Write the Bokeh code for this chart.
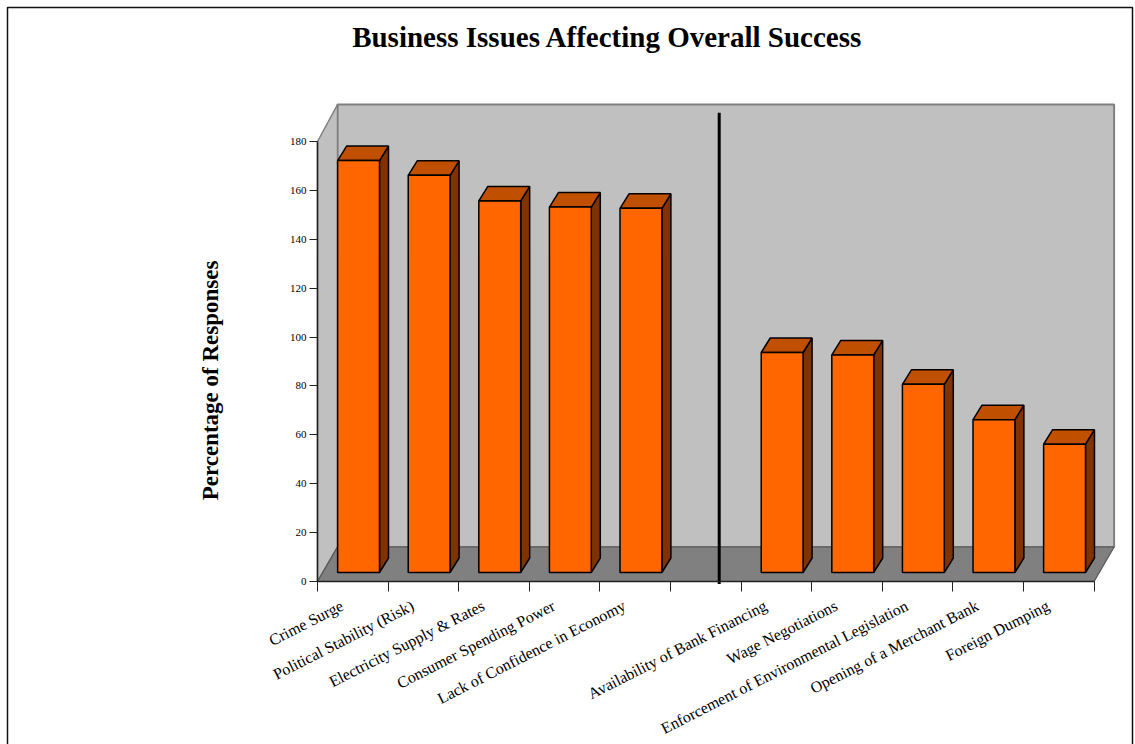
from bokeh.plotting import figure
from bokeh.models import LinearAxis, FixedTicker, Range1d, ColumnDataSource, Label, BoxAnnotation
from bokeh.embed import file_html
from bokeh.resources import INLINE
import math

# ---------------- data ----------------
title_text = "Business Issues Affecting Overall Success"
y_label_text = "Percentage of Responses"

group1_categories = ["Crime Surge", "Political Stability (Risk)", "Electricity Supply & Rates",
                     "Consumer Spending Power", "Lack of Confidence in Economy"]
group1_values = [168.5, 162.5, 152, 149.5, 149]

group2_categories = ["Availability of Bank Financing", "Wage Negotiations",
                     "Enforcement of Environmental Legislation", "Opening of a Merchant Bank",
                     "Foreign Dumping"]
group2_values = [90, 89, 77, 62.5, 52.5]

y_ticks = [0, 20, 40, 60, 80, 100, 120, 140, 160, 180]

# slot positions: 5 bars, a blank slot, 5 bars
slots = list(range(0, 5)) + list(range(6, 11))
categories = group1_categories + group2_categories
values = group1_values + group2_values
N_SLOTS = 11

# ---------------- style ----------------
W, H = 1135, 744
ORIGIN_X, ORIGIN_Y = 317, 581   # pixel position of the axes origin
PX_X = 70.6      # pixels per slot
PX_Y = 2.4444    # pixels per value unit
SERIF = "Liberation Serif"

DX = 20 / PX_X          # wall depth offset (x)
DY = 34.5 / PX_Y        # wall depth offset (y)
WALL_TOP = 181
BAR_L, BAR_R = 0.285, 0.878
BAR_BASE = 9 / PX_Y     # front face bottom (depth shift)
BDX = 9 / PX_X          # bar depth
BDY = 14.5 / PX_Y
DIVIDER_X = 5.69
LABEL_SHIFT = 0.35      # category label anchor inside a slot

# the frame fills the whole canvas; axes are pinned at the data origin
p = figure(width=W, height=H, output_backend="svg", toolbar_location=None,
           x_range=Range1d(-ORIGIN_X / PX_X, (W - ORIGIN_X) / PX_X),
           y_range=Range1d(-(H - ORIGIN_Y) / PX_Y, ORIGIN_Y / PX_Y),
           x_axis_type=None, y_axis_type=None,
           min_border_left=0, min_border_right=0, min_border_top=0, min_border_bottom=0)
p.outline_line_color = None
p.background_fill_color = "white"
p.border_fill_color = "white"

# walls and floor
p.quad(left=[DX], right=[N_SLOTS + DX], bottom=[DY], top=[WALL_TOP + DY],
       fill_color="#C0C0C0", line_color="#808080", line_width=2)
p.patch([0, DX, DX, 0], [0, DY, WALL_TOP + DY, 180],
        fill_color="#C0C0C0", line_color="#808080", line_width=1.5)
p.patch([0, N_SLOTS, N_SLOTS + DX, DX], [0, 0, DY, DY],
        fill_color="#808080", line_color="#555555", line_width=1.2)

# divider line
p.segment(x0=[DIVIDER_X], y0=[-1], x1=[DIVIDER_X], y1=[191.8], line_color="black", line_width=3)

# bars
lefts = [s + BAR_L for s in slots]
rights = [s + BAR_R for s in slots]
tops = [v + BAR_BASE for v in values]
front = ColumnDataSource(dict(left=lefts, right=rights, bottom=[BAR_BASE] * len(values), top=tops))
top_xs = [[l, r, r + BDX, l + BDX] for l, r in zip(lefts, rights)]
top_ys = [[t, t, t + BDY, t + BDY] for t in tops]
side_xs = [[r, r + BDX, r + BDX, r] for r in rights]
side_ys = [[BAR_BASE, BAR_BASE + BDY, t + BDY, t] for t in tops]

p.patches(side_xs, side_ys, fill_color="#803300", line_color="black", line_width=1.5)
p.patches(top_xs, top_ys, fill_color="#C04F00", line_color="black", line_width=1.5)
p.quad(source=front, left="left", right="right", bottom="bottom", top="top",
       fill_color="#FF6600", line_color="black", line_width=1.5)

# y axis
yaxis = LinearAxis(ticker=FixedTicker(ticks=y_ticks, minor_ticks=[]), bounds=(0, 180),
                   fixed_location=0)
yaxis.axis_line_color = "#222222"
yaxis.axis_line_width = 1.5
yaxis.major_tick_out = 8
yaxis.major_tick_in = 0
yaxis.major_tick_line_color = "#222222"
yaxis.minor_tick_line_color = None
yaxis.major_label_standoff = 3
yaxis.major_label_text_font = SERIF
yaxis.major_label_text_font_size = "11px"
yaxis.major_label_text_color = "black"
p.add_layout(yaxis, "left")

# x axis
label_pos = [s + LABEL_SHIFT for s in slots]
xaxis = LinearAxis(ticker=FixedTicker(ticks=label_pos, minor_ticks=list(range(N_SLOTS + 1))),
                   bounds=(0, N_SLOTS), fixed_location=0)
xaxis.major_label_overrides = {c: name for c, name in zip(label_pos, categories)}
xaxis.axis_line_color = "#222222"
xaxis.axis_line_width = 1.5
xaxis.major_tick_out = 0
xaxis.major_tick_in = 0
xaxis.major_tick_line_color = None
xaxis.minor_tick_out = 10
xaxis.minor_tick_in = 0
xaxis.minor_tick_line_color = "#222222"
xaxis.minor_tick_line_width = 1
xaxis.major_label_orientation = math.radians(27)
xaxis.major_label_standoff = 13
xaxis.major_label_text_font = SERIF
xaxis.major_label_text_font_size = "16px"
xaxis.major_label_text_color = "black"
p.add_layout(xaxis, "below")

# title and y-axis title (screen units: frame == canvas)
p.add_layout(Label(x=607, y=H - 36, x_units="screen", y_units="screen", text=title_text,
                   text_font=SERIF, text_font_style="bold", text_font_size="29px",
                   text_align="center", text_baseline="middle", text_color="black"))
p.add_layout(Label(x=210, y=H - 380, x_units="screen", y_units="screen", text=y_label_text,
                   angle=math.pi / 2, text_font=SERIF, text_font_style="bold",
                   text_font_size="23px", text_align="center", text_baseline="middle",
                   text_color="black"))

# page border
p.add_layout(BoxAnnotation(left=7, right=1132, top=H - 7, bottom=-30,
                           left_units="screen", right_units="screen",
                           top_units="screen", bottom_units="screen",
                           fill_alpha=0, line_color="#111111", line_alpha=1.0, line_width=1.5))

open("out.html", "w").write(file_html(p, INLINE))
